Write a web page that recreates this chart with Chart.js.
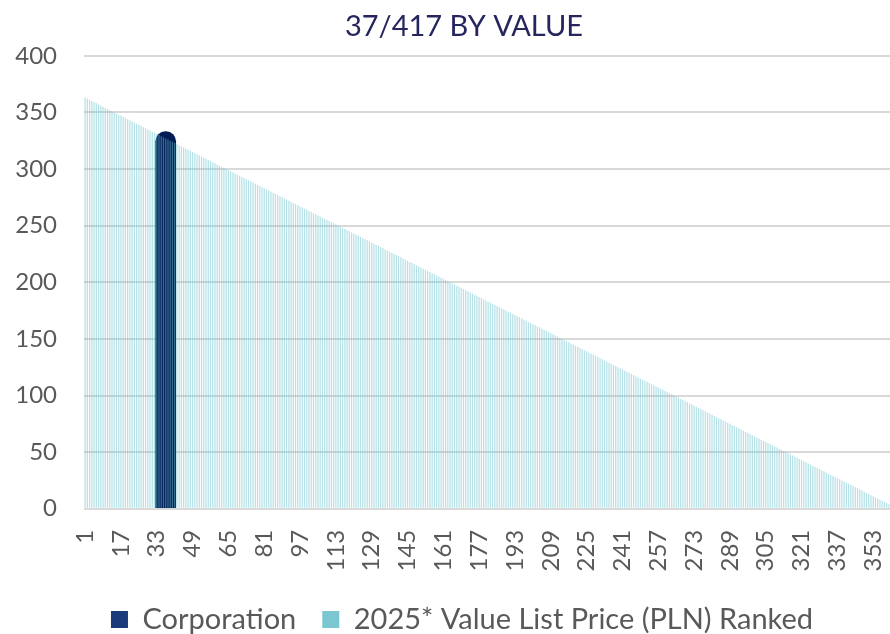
<!DOCTYPE html>
<html>
<head>
<meta charset="utf-8">
<script src="https://cdn.jsdelivr.net/npm/chart.js@4.4.1/dist/chart.umd.min.js"></script>
<style>
html,body{margin:0;padding:0;background:#fff;}
#wrap{width:890px;height:634px;}
</style>
</head>
<body>
<div id="wrap"><canvas id="c" width="890" height="634"></canvas></div>
<script>
const chartTitle = "37/417 BY VALUE";
const seriesNames = ["Corporation", "2025* Value List Price (PLN) Ranked"];
const yTicks = [0, 50, 100, 150, 200, 250, 300, 350, 400];
const corporationRank = 37;
const corporationValue = 333;
const rankedValues = [
363,362,361,360,359,358,357,356,355,354,353,352,351,350,349,348,347,346,345,344,
343,342,341,340,339,338,337,336,335,334,333,332,331,330,329,328,327,326,325,324,
323,322,321,320,319,318,317,316,315,314,313,312,311,310,309,308,307,306,305,304,
303,302,301,300,299,298,297,296,295,294,293,292,291,290,289,288,287,286,285,284,
283,282,281,280,279,278,277,276,275,274,273,272,271,270,269,268,267,266,265,264,
263,262,261,260,259,258,257,256,255,254,253,252,251,250,249,248,247,246,245,244,
243,242,241,240,239,238,237,236,235,234,233,232,231,230,229,228,227,226,225,224,
223,222,221,220,219,218,217,216,215,214,213,212,211,210,209,208,207,206,205,204,
203,202,201,200,199,198,197,196,195,194,193,192,191,190,189,188,187,186,185,184,
183,182,181,180,179,178,177,176,175,174,173,172,171,170,169,168,167,166,165,164,
163,162,161,160,159,158,157,156,155,154,153,152,151,150,149,148,147,146,145,144,
143,142,141,140,139,138,137,136,135,134,133,132,131,130,129,128,127,126,125,124,
123,122,121,120,119,118,117,116,115,114,113,112,111,110,109,108,107,106,105,104,
103,102,101,100,99,98,97,96,95,94,93,92,91,90,89,88,87,86,85,84,
83,82,81,80,79,78,77,76,75,74,73,72,71,70,69,68,67,66,65,64,
63,62,61,60,59,58,57,56,55,54,53,52,51,50,49,48,47,46,45,44,
43,42,41,40,39,38,37,36,35,34,33,32,31,30,29,28,27,26,25,24,
23,22,21,20,19,18,17,16,15,14,13,12,11,10,9,8,7,6,5,4
];
const rankLabels = rankedValues.map((v, i) => String(i + 1));
const corporationSeries = rankedValues.map((v, i) => (i + 1 === corporationRank ? corporationValue : null));

const FONT = "Lato, 'Noto Sans', sans-serif";
const TXT = "#595959";

const blockShift = {
  id: 'blockShift',
  afterLayout(chart) {
    if (chart.titleBlock) { chart.titleBlock.left += 19; chart.titleBlock.right += 19; }
    if (chart.legend) { chart.legend.left += 17; chart.legend.right += 17; }
  }
};

new Chart(document.getElementById('c'), {
  type: 'bar',
  plugins: [blockShift],
  data: {
    labels: rankLabels,
    datasets: [
      {
        label: seriesNames[0],
        data: corporationSeries,
        backgroundColor: '#021C55',
        grouped: false,
        barThickness: 20,
        borderRadius: {topLeft: 10, topRight: 10, bottomLeft: 0, bottomRight: 0},
        borderSkipped: 'bottom',
        order: 2
      },
      {
        label: seriesNames[1],
        data: rankedValues,
        backgroundColor: 'rgba(110,195,208,0.5)',
        grouped: false,
        barPercentage: 0.55,
        categoryPercentage: 1,
        order: 1
      }
    ]
  },
  options: {
    responsive: false,
    animation: false,
    events: [],
    layout: {padding: {left: 0, right: 0, top: 0, bottom: -10}},
    plugins: {
      tooltip: {enabled: false},
      title: {
        display: true,
        text: chartTitle,
        color: '#26265E',
        font: {family: FONT, size: 29, weight: 'normal'},
        padding: {top: 9, bottom: 12}
      },
      legend: {
        position: 'bottom',
        labels: {
          color: TXT,
          font: {family: FONT, size: 29},
          boxWidth: 17,
          boxHeight: 17,
          padding: 26,
          generateLabels: (chart) => {
            const cols = ['#1B3A7A', '#7AC7D1'];
            return chart.data.datasets.map((ds, i) => ({
              text: ds.label,
              fillStyle: cols[i],
              strokeStyle: cols[i],
              lineWidth: 0,
              fontColor: TXT,
              datasetIndex: i,
              hidden: false
            }));
          }
        }
      }
    },
    scales: {
      x: {
        grid: {display: false},
        border: {display: false},
        afterFit: (axis) => { axis.paddingLeft = 0; axis.paddingRight = 0; axis.height -= 5.5; },
        ticks: {
          autoSkip: false,
          maxRotation: 90,
          minRotation: 90,
          padding: 13,
          color: TXT,
          font: {family: FONT, size: 24},
          callback: function(value, index) {
            return index % 16 === 0 ? this.getLabelForValue(value) : '';
          }
        }
      },
      y: {
        min: yTicks[0],
        max: yTicks[yTicks.length - 1],
        afterBuildTicks: (axis) => { axis.ticks = yTicks.map(v => ({value: v})); },
        afterFit: (axis) => { axis.width = 84; },
        grid: {color: '#D9D9D9', lineWidth: 2, drawTicks: false},
        border: {display: false},
        ticks: {
          padding: 27,
          color: TXT,
          font: {family: FONT, size: 24}
        }
      }
    }
  }
});
</script>
</body>
</html>
